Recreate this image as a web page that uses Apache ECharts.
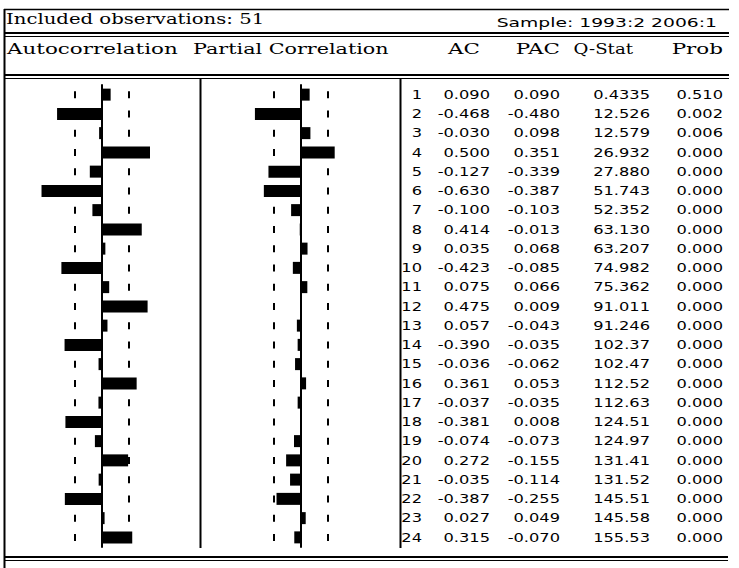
<!DOCTYPE html>
<html><head><meta charset="utf-8">
<script src="https://cdn.jsdelivr.net/npm/echarts@6/dist/echarts.min.js"></script>
<style>html,body{margin:0;padding:0;background:#fff}#c{width:739px;height:568px}</style>
</head><body><div id="c"></div>
<script>
// ---- data ----
const lags = [1,2,3,4,5,6,7,8,9,10,11,12,13,14,15,16,17,18,19,20,21,22,23,24];
const acValues = [0.090,-0.468,-0.030,0.500,-0.127,-0.630,-0.100,0.414,0.035,-0.423,0.075,0.475,0.057,-0.390,-0.036,0.361,-0.037,-0.381,-0.074,0.272,-0.035,-0.387,0.027,0.315];
const pacValues = [0.090,-0.480,0.098,0.351,-0.339,-0.387,-0.103,-0.013,0.068,-0.085,0.066,0.009,-0.043,-0.035,-0.062,0.053,-0.035,0.008,-0.073,-0.155,-0.114,-0.255,0.049,-0.070];
const qStat = [0.4335,12.526,12.579,26.932,27.880,51.743,52.352,63.130,63.207,74.982,75.362,91.011,91.246,102.37,102.47,112.52,112.63,124.51,124.97,131.41,131.52,145.51,145.58,155.53];
const probValues = [0.510,0.002,0.006,0.000,0.000,0.000,0.000,0.000,0.000,0.000,0.000,0.000,0.000,0.000,0.000,0.000,0.000,0.000,0.000,0.000,0.000,0.000,0.000,0.000];
const bound = 0.28;
const panelTitles = ['Autocorrelation','Partial Correlation'];
const columnHeaders = ['AC','PAC','Q-Stat','Prob'];
const obsText = 'Included observations: 51';
const sampleText = 'Sample: 1993:2 2006:1';

// ---- layout / style ----
const SERIF = 'DejaVu Serif';
const SANS = 'DejaVu Sans';
const tableScale = 1.3;
const colRight = [422, 490, 560, 650, 723];
const headRight = [480, 560, 633, 723];
const headScales = [1.43, 1.43, 1.21, 1.43];

const fmt3 = v => v.toFixed(3);
const fmtQ = v => v < 1 ? v.toFixed(4) : (v < 100 ? v.toFixed(3) : v.toFixed(2));

function hline(y, x1, x2, w){ return {type:'line', silent:true, shape:{x1:x1,y1:y,x2:x2,y2:y}, style:{stroke:'#000', lineWidth:w}}; }
function vline(x, y1, y2, w){ return {type:'line', silent:true, shape:{x1:x,y1:y1,x2:x,y2:y2}, style:{stroke:'#000', lineWidth:w}}; }
function txt(t, x, y, align, font, size, sx){
  return {type:'text', silent:true, x:x, y:y, scaleX:sx, style:{text:t, fill:'#000', fontFamily:font, fontSize:size, align:align, verticalAlign:'middle'}};
}

const chart = echarts.init(document.getElementById('c'), null, {renderer:'svg'});

function panelAxes(i){
  return {
    x: {gridIndex:i, type:'value', min:-1, max:1, axisLine:{show:false}, axisTick:{show:false}, axisLabel:{show:false}, splitLine:{show:false}},
    y: {gridIndex:i, type:'category', data:lags, inverse:true, axisLine:{show:true, onZero:true, lineStyle:{color:'#000', width:2}}, axisTick:{show:false}, axisLabel:{show:false}, splitLine:{show:false}}
  };
}
const a0 = panelAxes(0), a1 = panelAxes(1);

function barSeries(i, vals){
  return {
    type:'bar', xAxisIndex:i, yAxisIndex:i, data:vals, barWidth:12,
    itemStyle:{color:'#000'}, emphasis:{disabled:true}, silent:true,
    markLine:{silent:true, symbol:'none', label:{show:false}, emphasis:{disabled:true},
      lineStyle:{color:'#000', width:2, type:[7,12.25], dashOffset:13.125},
      data:[{xAxis:-bound},{xAxis:bound}]}
  };
}

const graphics = [
  vline(4.5, 9, 568, 2),
  hline(9.5, 4, 729, 1.5),
  hline(33, 4, 729, 2), hline(36.5, 4, 729, 1),
  hline(75, 4, 729, 2), hline(78.5, 4, 729, 1),
  vline(200.5, 78, 548, 2), vline(400.5, 78, 548, 2),
  hline(557, 4, 728, 2), hline(560.5, 4, 728, 1),
  txt(obsText, 6, 19, 'left', SERIF, 15, 1.31),
  txt(sampleText, 717, 23, 'right', SANS, 12.5, 1.5),
  txt(panelTitles[0], 7, 49, 'left', SERIF, 15, 1.43),
  txt(panelTitles[1], 193, 49, 'left', SERIF, 15, 1.38)
];
columnHeaders.forEach((h,k)=>graphics.push(txt(h, headRight[k], 49, 'right', SERIF, 15, headScales[k])));

chart.setOption({
  animation:false,
  backgroundColor:'#fff',
  grid:[
    {left:6, width:192, top:85, height:462},
    {left:205, width:192, top:85, height:462},
    {left:402, right:8, top:85, height:462}
  ],
  xAxis:[a0.x, a1.x, {gridIndex:2, type:'value', min:0, max:1, show:false}],
  yAxis:[a0.y, a1.y, {gridIndex:2, type:'category', data:lags, inverse:true, show:false}],
  series:[
    barSeries(0, acValues),
    barSeries(1, pacValues),
    {
      type:'custom', xAxisIndex:2, yAxisIndex:2, silent:true,
      data: lags.map((l,i)=>[0,i]),
      renderItem: function(params, api){
        const i = params.dataIndex;
        const y = api.coord([0, api.value(1)])[1];
        const cells = [String(lags[i]), fmt3(acValues[i]), fmt3(pacValues[i]), fmtQ(qStat[i]), fmt3(probValues[i])];
        return {type:'group', children: cells.map((t,k)=>({
          type:'text', x:colRight[k], y:y, scaleX:tableScale,
          style:{text:t, fill:'#000', fontFamily:SANS, fontSize:12.5, align:'right', verticalAlign:'middle'}
        }))};
      }
    }
  ],
  graphic: graphics
});
</script></body></html>
